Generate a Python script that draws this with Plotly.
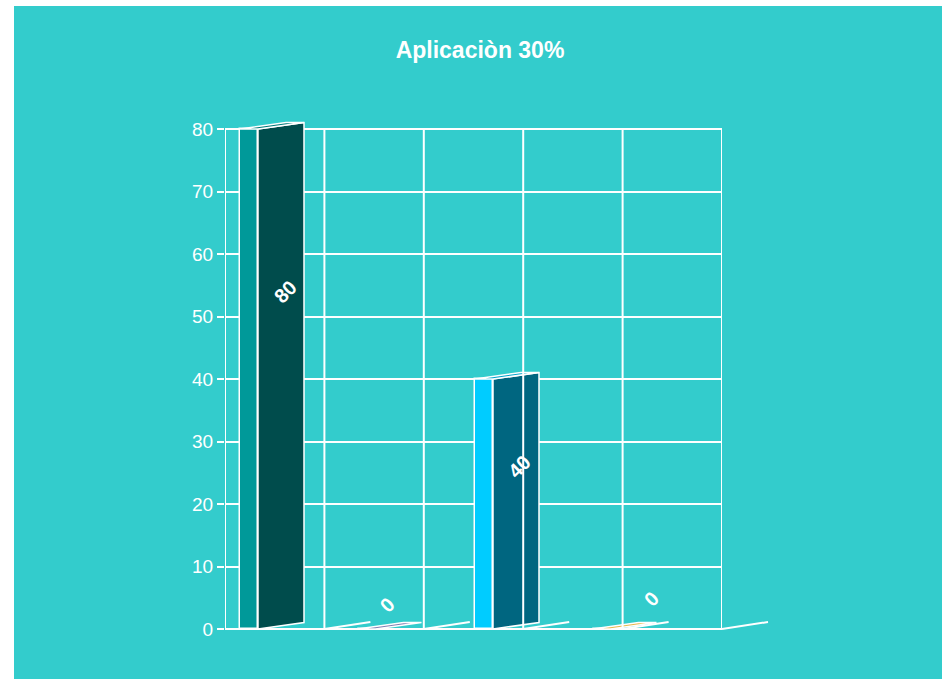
import plotly.graph_objects as go

# --- data -------------------------------------------------------------
categories = ["Opción 1", "Opción 2", "Opción 3", "Opción 4"]
values = [80, 0, 40, 0]
y_ticks = [0, 10, 20, 30, 40, 50, 60, 70, 80]
title_text = "Aplicaciòn 30%"

# --- style ------------------------------------------------------------
BG = "#33CCCC"
front_colors = ["#009999", "#9999CC", "#00CCFF", "#FFCC66"]
side_colors = ["#004C4C", "#666699", "#006680", "#CC9933"]
top_colors = ["#007A7A", "#8080B3", "#00A3CC", "#E6B84D"]

STEP = 117.5                # pixels per category
FRONT_W = 18 / STEP         # width of the front face
FRONT_OFF = -32 / STEP      # offset of the front face from the category centre
DEPTH_X = 46 / STEP         # horizontal depth of the side face
DEPTH_Y = 1.04              # vertical rise of the depth edge
# label placement (category offset, label height)
label_dx = [0.11, -0.02, 0.10, 0.23]
label_y = [54, 3.8, 26, 4.8]

N_GRID = 5                  # vertical grid cells on the overlay axis
GRID_DX = 46 / 99.4
GRID_DY = 1.12

fig = go.Figure()

# vertical grid + floor depth lines on the overlay axis
gx, gy = [], []
for k in range(N_GRID + 1):
    gx += [k, k, None]
    gy += [0, y_ticks[-1], None]
for k in range(1, N_GRID):
    gx += [k, k + GRID_DX, None]
    gy += [0, GRID_DY, None]
fig.add_trace(go.Scatter(x=gx, y=gy, mode="lines", xaxis="x2", yaxis="y",
                         line=dict(color="white", width=2),
                         hoverinfo="skip", showlegend=False))

# depth line leaving the right edge of the floor
fig.add_shape(type="line", xref="paper", yref="paper",
              x0=1, y0=0, x1=1 + 46 / 497, y1=7 / 512,
              line=dict(color="white", width=2))

xpos = list(range(len(categories)))

# front faces
fig.add_trace(go.Bar(x=xpos, y=values, width=FRONT_W, offset=FRONT_OFF,
                     marker=dict(color=front_colors,
                                 line=dict(color="white", width=1.5)),
                     hovertext=categories, showlegend=False))

# side (depth) faces and top faces
for i, v in enumerate(values):
    xa = i + FRONT_OFF + FRONT_W
    xl = i + FRONT_OFF
    if v > 0:
        fig.add_trace(go.Scatter(
            x=[xa, xa + DEPTH_X, xa + DEPTH_X, xa, xa],
            y=[0, DEPTH_Y, v + DEPTH_Y, v, 0],
            mode="lines", fill="toself", fillcolor=side_colors[i],
            line=dict(color="white", width=1.5),
            hoverinfo="skip", showlegend=False))
    fig.add_trace(go.Scatter(
        x=[xl, xa, xa + DEPTH_X, xl + DEPTH_X, xl],
        y=[v, v, v + DEPTH_Y, v + DEPTH_Y, v],
        mode="lines", fill="toself", fillcolor=top_colors[i],
        line=dict(color="white", width=1.5),
        hoverinfo="skip", showlegend=False))

# value labels
for i, v in enumerate(values):
    fig.add_annotation(x=i + label_dx[i], y=label_y[i], xref="x", yref="y",
                       text=f"<b>{v}</b>", showarrow=False, textangle=-45,
                       font=dict(family="Liberation Sans, Arial", size=20,
                                 color="white"))

# teal panel
fig.add_shape(type="rect", xref="paper", yref="paper",
              x0=(14 - 225) / 497, x1=(942 - 225) / 497,
              y0=(629 - 679) / 512, y1=(629 - 6) / 512,
              fillcolor=BG, line=dict(width=0), layer="below")

fig.update_layout(
    width=948, height=679,
    margin=dict(l=225, r=226, t=117, b=50),
    paper_bgcolor="white",
    plot_bgcolor="rgba(0,0,0,0)",
    bargap=0,
    title=dict(text=f"<b>{title_text}</b>", x=(480 - 225) / 497, xref="paper",
               xanchor="center", y=1 - 50 / 679, yanchor="middle",
               font=dict(family="Liberation Sans, Arial", size=23,
                         color="white")),
    xaxis=dict(range=[-47 / STEP, 450 / STEP], showgrid=False, zeroline=False,
               showticklabels=False, ticks="", showline=False),
    xaxis2=dict(range=[0, N_GRID], overlaying="x", visible=False),
    yaxis=dict(range=[0, 512 / 6.25], tickvals=y_ticks, showgrid=True,
               gridcolor="white", gridwidth=2, zeroline=True,
               zerolinecolor="white", zerolinewidth=2, showline=False,
               ticks="outside", ticklen=7, tickwidth=2, tickcolor="white",
               tickfont=dict(family="Liberation Sans, Arial", size=19,
                             color="white")),
)

fig.write_html("out.html")
